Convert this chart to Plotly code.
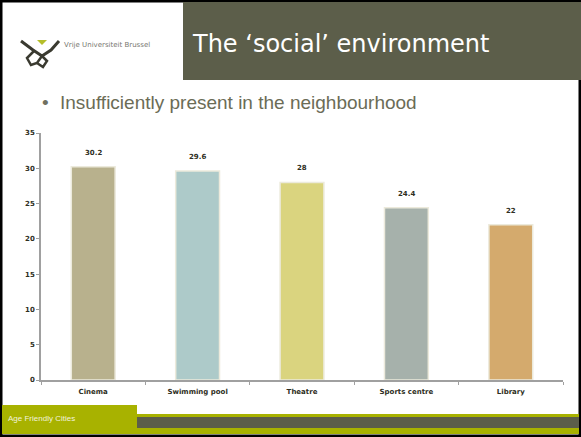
import plotly.graph_objects as go

categories = ["Cinema", "Swimming pool", "Theatre", "Sports centre", "Library"]
values = [30.2, 29.6, 28, 24.4, 22]
value_labels = ["30.2", "29.6", "28", "24.4", "22"]
bar_colors = ["#b8b18d", "#adcac9", "#dad47f", "#a6b1ab", "#d4aa6d"]
y_ticks = [0, 5, 10, 15, 20, 25, 30, 35]

W, H = 581, 437
L, R, T, B = 41, 18, 133, 57
PW, PH = W - L - R, H - T - B


def px(x, y):
    return (x - L) / PW, (H - B - y) / PH


def rect(x0, y0, x1, y1, color, line=None):
    a = px(x0, y0)
    b = px(x1, y1)
    return dict(type="rect", xref="paper", yref="paper", x0=a[0], y0=a[1], x1=b[0], y1=b[1],
                fillcolor=color, line=dict(width=0) if line is None else line, layer="above")


fig = go.Figure()
fig.add_trace(go.Bar(
    x=categories, y=values,
    marker=dict(color=bar_colors, line=dict(color="#eceadc", width=1.5)),
    width=0.42,
))

shapes = []
# outer black frame
shapes.append(rect(0, 0, W, H, "rgba(0,0,0,0)", line=dict(color="black", width=5)))
# header olive box
shapes.append(rect(183, 2, W, 80, "#5c5e4a"))
# footer
shapes.append(rect(2, 405, 137, 434, "#a8b200"))
shapes.append(rect(137, 414, W - 2, 434, "#a8b200"))
shapes.append(rect(137, 417, W - 2, 428, "#5c5e4a"))


def path_px(points, close=False):
    s = ""
    for i, (x, y) in enumerate(points):
        a, b = px(x, y)
        s += ("M" if i == 0 else "L") + f"{a:.4f},{b:.4f} "
    if close:
        s += "Z"
    return s

# logo approximation
shapes.append(dict(type="path", xref="paper", yref="paper", layer="above",
                   path=path_px([(37, 40), (47, 40), (42, 45)], close=True),
                   fillcolor="#b5be2a", line=dict(width=0)))
shapes.append(dict(type="path", xref="paper", yref="paper", layer="above",
                   path=path_px([(21, 41), (33, 50), (42, 56), (51, 50), (59, 41)]),
                   line=dict(color="#3a3a30", width=3)))
shapes.append(dict(type="path", xref="paper", yref="paper", layer="above",
                   path=path_px([(34, 51), (27, 58), (31, 65), (37, 63), (42, 56), (47, 61), (43, 67), (37, 63)]),
                   line=dict(color="#3a3a30", width=2.5)))

annotations = []


def text_ann(x, y, s, size, color, family, anchor="left", yanchor="middle"):
    a, b = px(x, y)
    annotations.append(dict(xref="paper", yref="paper", x=a, y=b, text=s, showarrow=False,
                            xanchor=anchor, yanchor=yanchor,
                            font=dict(size=size, color=color, family=family)))


text_ann(62, 45, "Vrije Universiteit Brussel", 7, "#777770", "DejaVu Sans")
text_ann(190, 44, "The \u2018social\u2019 environment", 24, "white", "DejaVu Sans")
text_ann(40, 102, "\u2022", 19, "#707060", "Liberation Sans")
text_ann(58, 102, "Insufficiently present in the neighbourhood", 19, "#6b6c56", "Liberation Sans")
text_ann(6, 418, "Age Friendly Cities", 8, "#f2f2dc", "Liberation Sans")

# value labels above the bars
for c, v, lab in zip(categories, values, value_labels):
    annotations.append(dict(xref="x", yref="y", x=c, y=v, text="<b>" + lab + "</b>",
                            showarrow=False, yanchor="bottom", yshift=8,
                            font=dict(family="DejaVu Sans", size=7, color="#2e2e22")))

fig.update_layout(
    width=W, height=H,
    margin=dict(l=L, r=R, t=T, b=B, pad=0),
    paper_bgcolor="white", plot_bgcolor="white",
    showlegend=False,
    shapes=shapes, annotations=annotations,
    bargap=0.6,
)
fig.update_xaxes(
    showline=True, linecolor="#a0a0a0", linewidth=1.5,
    ticks="outside", ticklen=3, tickcolor="#a0a0a0", tickson="boundaries",
    tickvals=categories, ticktext=["<b>" + c + "</b>" for c in categories],
    ticklabelstandoff=4,
    tickfont=dict(family="DejaVu Sans", size=7, color="#2e2e22"),
    showgrid=False, zeroline=False,
)
fig.update_yaxes(
    range=[0, 35], tickvals=y_ticks, ticktext=["<b>%d</b>" % v for v in y_ticks],
    showline=True, linecolor="#a0a0a0", linewidth=1.5,
    ticks="outside", ticklen=3, tickcolor="#a0a0a0",
    tickfont=dict(family="DejaVu Sans", size=7, color="#2e2e22"),
    showgrid=False, zeroline=False,
)

fig.write_html("out.html", config={"displayModeBar": False},
               post_script="document.body.style.margin='0';document.body.style.overflow='hidden';")
